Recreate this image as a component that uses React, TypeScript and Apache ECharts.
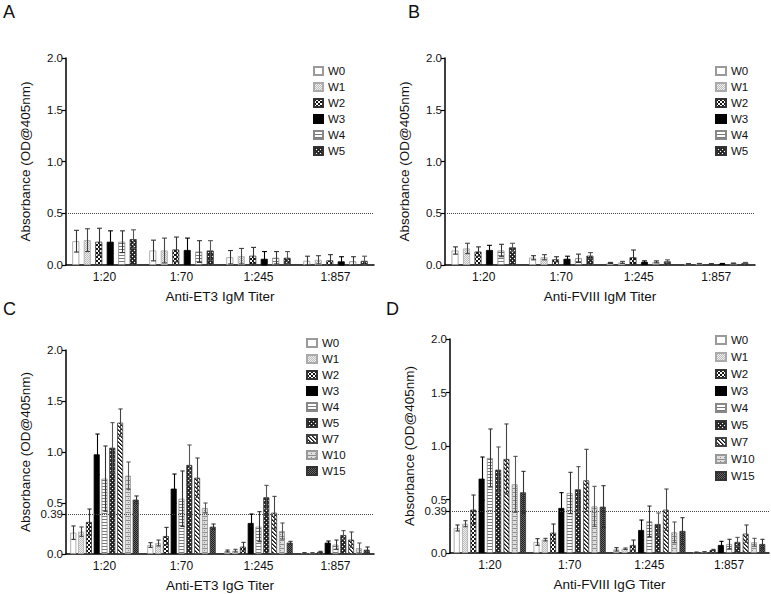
import React, { useEffect, useRef } from 'react';
import * as echarts from 'echarts';

const TITERS = ['1:20', '1:70', '1:245', '1:857'];
const WEEKS_M = ['W0', 'W1', 'W2', 'W3', 'W4', 'W5'];
const WEEKS_G = ['W0', 'W1', 'W2', 'W3', 'W4', 'W5', 'W7', 'W10', 'W15'];

// Panel A: Anti-ET3 IgM (rows = weeks, cols = titers)
const A_MEAN = [
  [0.23, 0.14, 0.075, 0.04],
  [0.24, 0.14, 0.085, 0.05],
  [0.225, 0.15, 0.09, 0.045],
  [0.225, 0.145, 0.06, 0.035],
  [0.225, 0.13, 0.07, 0.035],
  [0.25, 0.14, 0.07, 0.04],
];
const A_ERR = [
  [0.105, 0.1, 0.065, 0.045],
  [0.11, 0.12, 0.075, 0.04],
  [0.13, 0.12, 0.08, 0.055],
  [0.105, 0.115, 0.07, 0.045],
  [0.105, 0.105, 0.06, 0.045],
  [0.09, 0.095, 0.06, 0.045],
];

// Panel B: Anti-FVIII IgM
const B_MEAN = [
  [0.14, 0.07, 0.02, 0.01],
  [0.16, 0.075, 0.025, 0.012],
  [0.13, 0.055, 0.075, 0.01],
  [0.145, 0.06, 0.03, 0.012],
  [0.14, 0.065, 0.03, 0.015],
  [0.17, 0.09, 0.035, 0.02],
];
const B_ERR = [
  [0.035, 0.02, 0.005, 0.003],
  [0.05, 0.025, 0.01, 0.003],
  [0.045, 0.025, 0.07, 0.003],
  [0.045, 0.025, 0.01, 0.003],
  [0.06, 0.04, 0.01, 0.004],
  [0.04, 0.03, 0.015, 0.005],
];

// Panel C: Anti-ET3 IgG
const C_MEAN = [
  [0.209, 0.088, 0.029, 0.01],
  [0.219, 0.108, 0.033, 0.01],
  [0.314, 0.176, 0.072, 0.02],
  [0.977, 0.641, 0.304, 0.111],
  [0.739, 0.542, 0.268, 0.092],
  [1.042, 0.873, 0.556, 0.186],
  [1.288, 0.748, 0.405, 0.141],
  [0.768, 0.451, 0.225, 0.056],
  [0.533, 0.268, 0.111, 0.042],
];
const C_ERR = [
  [0.066, 0.023, 0.01, 0.003],
  [0.046, 0.029, 0.013, 0.003],
  [0.127, 0.085, 0.042, 0.006],
  [0.199, 0.143, 0.088, 0.016],
  [0.32, 0.272, 0.147, 0.045],
  [0.246, 0.196, 0.117, 0.043],
  [0.134, 0.193, 0.16, 0.075],
  [0.134, 0.049, 0.079, 0.052],
  [0.036, 0.026, 0.013, 0.027],
];

// Panel D: Anti-FVIII IgG
const D_MEAN = [
  [0.234, 0.103, 0.034, 0.006],
  [0.274, 0.125, 0.04, 0.01],
  [0.405, 0.19, 0.075, 0.028],
  [0.695, 0.421, 0.215, 0.075],
  [0.888, 0.561, 0.296, 0.084],
  [0.779, 0.595, 0.271, 0.103],
  [0.879, 0.679, 0.405, 0.181],
  [0.642, 0.436, 0.193, 0.1],
  [0.567, 0.433, 0.206, 0.084],
];
const D_ERR = [
  [0.028, 0.031, 0.016, 0.003],
  [0.028, 0.012, 0.007, 0.003],
  [0.137, 0.081, 0.046, 0.006],
  [0.202, 0.143, 0.093, 0.034],
  [0.271, 0.193, 0.143, 0.044],
  [0.212, 0.212, 0.103, 0.043],
  [0.327, 0.29, 0.193, 0.081],
  [0.261, 0.187, 0.097, 0.037],
  [0.196, 0.196, 0.124, 0.044],
];

const Y_TICKS_M = [0, 0.5, 1, 1.5, 2];
const Y_TICKS_G = [0, 0.39, 0.5, 1, 1.5, 2];

const FONT = '"Liberation Sans", Arial, Helvetica, sans-serif';

function makePattern(w: number, h: number, fill: (x: number, y: number) => string) {
  const c = document.createElement('canvas');
  c.width = w;
  c.height = h;
  const ctx = c.getContext('2d')!;
  for (let y = 0; y < h; y++) {
    for (let x = 0; x < w; x++) {
      ctx.fillStyle = fill(x, y);
      ctx.fillRect(x, y, 1, 1);
    }
  }
  return { image: c.toDataURL(), repeat: 'repeat', imageWidth: w, imageHeight: h } as any;
}

function buildStyles() {
  return {
    W0: { color: '#ffffff', border: '#9a9a9a', err: '#333' },
    W1: {
      color: makePattern(2, 2, (x, y) => ((x + y) % 2 === 0 ? '#bcbcbc' : '#f0f0f0')),
      border: '#aaaaaa',
      err: '#444',
    },
    W2: {
      color: makePattern(4, 4, (x, y) => ((Math.floor(x / 2) + Math.floor(y / 2)) % 2 === 0 ? '#111' : '#fff')),
      border: '#333',
      err: '#333',
    },
    W3: { color: '#000000', border: '#000', err: '#000' },
    W4: {
      color: makePattern(1, 3, (x, y) => (y === 0 ? '#7a7a7a' : '#ffffff')),
      border: '#888',
      err: '#333',
    },
    W5: {
      color: makePattern(4, 4, (x, y) => ((x === 0 && y === 0) || (x === 2 && y === 2) ? '#ffffff' : (x + y) % 2 === 0 ? '#1a1a1a' : '#3a3a3a')),
      border: '#333',
      err: '#555',
    },
    W7: {
      color: makePattern(4, 4, (x, y) => {
        const d = (((x - y) % 4) + 4) % 4;
        return d === 0 ? '#111' : d === 1 ? '#666' : '#fff';
      }),
      border: '#444',
      err: '#444',
    },
    W10: {
      color: makePattern(4, 4, (x, y) => (y === 0 || (y === 2 && x === 0) ? '#8c8c8c' : '#dedede')),
      border: '#999',
      err: '#555',
    },
    W15: {
      color: makePattern(2, 2, (x, y) => ((x + y) % 2 === 0 ? '#1e1e1e' : '#6a6a6a')),
      border: '#333',
      err: '#333',
    },
  } as Record<string, { color: any; border: string; err: string }>;
}

const PANELS = [
  {
    letter: 'A', letterPos: [3, 3], weeks: WEEKS_M, mean: A_MEAN, err: A_ERR, ref: 0.5, yTicks: Y_TICKS_M,
    xName: 'Anti-ET3 IgM Titer', grid: { left: 66, top: 58, width: 308, height: 207 },
    barWidth: 7, gapRatio: 0.64, legend: { left: 308, top: 60, itemGap: 4, itemWidth: 9 },
  },
  {
    letter: 'B', letterPos: [408, 3], weeks: WEEKS_M, mean: B_MEAN, err: B_ERR, ref: 0.5, yTicks: Y_TICKS_M,
    xName: 'Anti-FVIII IgM Titer', grid: { left: 445, top: 58, width: 310, height: 207 },
    barWidth: 7, gapRatio: 0.64, legend: { left: 710, top: 60, itemGap: 4, itemWidth: 10 },
  },
  {
    letter: 'C', letterPos: [3, 300], weeks: WEEKS_G, mean: C_MEAN, err: C_ERR, ref: 0.39, yTicks: Y_TICKS_G,
    xName: 'Anti-ET3 IgG Titer', grid: { left: 66, top: 350, width: 308, height: 204 },
    barWidth: 6, gapRatio: 0.3, legend: { left: 301, top: 332, itemGap: 4, itemWidth: 10 },
  },
  {
    letter: 'D', letterPos: [386, 300], weeks: WEEKS_G, mean: D_MEAN, err: D_ERR, ref: 0.39, yTicks: Y_TICKS_G,
    xName: 'Anti-FVIII IgG Titer', grid: { left: 450, top: 339, width: 319, height: 214 },
    barWidth: 6, gapRatio: 0.38, legend: { left: 710, top: 329, itemGap: 5, itemWidth: 10 },
  },
];

export default function App() {
  const ref = useRef<HTMLDivElement>(null);

  useEffect(() => {
    if (!ref.current) return;
    const chart = echarts.init(ref.current, undefined, { renderer: 'svg' });
    const styles = buildStyles();

    const grids: any[] = [];
    const xAxes: any[] = [];
    const yAxes: any[] = [];
    const legends: any[] = [];
    const series: any[] = [];
    const graphics: any[] = [];

    PANELS.forEach((p, pi) => {
      grids.push({ ...p.grid, containLabel: false });
      xAxes.push({
        type: 'category',
        gridIndex: pi,
        data: TITERS,
        axisLine: { lineStyle: { color: '#000', width: 1.5 } },
        axisTick: { alignWithLabel: true, length: 4, lineStyle: { color: '#000', width: 1.2 } },
        axisLabel: { fontSize: 12, color: '#111', margin: 6, fontFamily: FONT },
        name: p.xName,
        nameLocation: 'middle',
        nameGap: 24,
        nameTextStyle: { fontSize: 13.5, color: '#111', fontFamily: FONT },
      });
      yAxes.push({
        type: 'value',
        gridIndex: pi,
        min: 0,
        max: 2,
        interval: 0.5,
        axisLine: { show: true, lineStyle: { color: '#000', width: 1.5 } },
        axisTick: { show: true, length: 4, customValues: p.yTicks, lineStyle: { color: '#000', width: 1.2 } },
        axisLabel: {
          fontSize: 11.5,
          lineHeight: 11,
          color: '#111',
          margin: 3,
          fontFamily: FONT,
          customValues: p.yTicks,
          formatter: (v: number) => (Math.abs(v - 0.39) < 1e-6 ? '0.39' : v.toFixed(1)),
        },
        splitLine: { show: false },
        name: 'Absorbance (OD@405nm)',
        nameLocation: 'middle',
        nameGap: 34,
        nameTextStyle: { fontSize: 13.5, color: '#111', fontFamily: FONT },
      });
      legends.push({
        orient: 'vertical',
        left: p.legend.left,
        top: p.legend.top,
        itemWidth: p.legend.itemWidth,
        itemHeight: 8,
        itemGap: p.legend.itemGap,
        icon: 'rect',
        data: p.weeks,
        selectedMode: false,
        textStyle: { fontSize: 11.5, color: '#111', fontFamily: FONT },
      });

      const n = p.weeks.length;
      p.weeks.forEach((w, wi) => {
        const st = styles[w];
        const s: any = {
          type: 'bar',
          name: w,
          xAxisIndex: pi,
          yAxisIndex: pi,
          data: p.mean[wi],
          barWidth: p.barWidth,
          barGap: Math.round(p.gapRatio * 100) + '%',
          itemStyle: { color: st.color, borderColor: st.border, borderWidth: 0.8 },
          emphasis: { disabled: true },
        };
        if (wi === 0) {
          s.markLine = {
            silent: true,
            symbol: ['none', 'none'],
            label: { show: false },
            lineStyle: { type: 'dotted', color: '#444', width: 1 },
            data: [{ yAxis: p.ref }],
          };
        }
        series.push(s);
      });

      const errData: number[][] = [];
      p.weeks.forEach((w, wi) => {
        TITERS.forEach((t, ci) => {
          errData.push([ci, wi, p.mean[wi][ci], p.err[wi][ci]]);
        });
      });
      const spacing = p.barWidth * (1 + p.gapRatio);
      const cap = p.barWidth * 0.35;
      series.push({
        type: 'custom',
        name: 'err' + p.letter,
        xAxisIndex: pi,
        yAxisIndex: pi,
        z: 5,
        silent: true,
        encode: { x: 0, y: 2 },
        data: errData,
        renderItem: (params: any, api: any) => {
          const ci = api.value(0);
          const wi = api.value(1);
          const v = api.value(2);
          const e = api.value(3);
          const c = api.coord([ci, v]);
          const x = Math.round(c[0] + (wi - (n - 1) / 2) * spacing) + 0.5;
          const yt = api.coord([ci, v + e])[1];
          const yb = api.coord([ci, Math.max(0, v - e)])[1];
          const col = styles[p.weeks[wi]].err;
          const ls = { stroke: col, lineWidth: 1.1 };
          return {
            type: 'group',
            children: [
              { type: 'line', shape: { x1: x, y1: yt, x2: x, y2: yb }, style: ls },
              { type: 'line', shape: { x1: x - cap, y1: yt, x2: x + cap, y2: yt }, style: ls },
              { type: 'line', shape: { x1: x - cap, y1: yb, x2: x + cap, y2: yb }, style: ls },
            ],
          };
        },
      });

      graphics.push({
        type: 'text',
        left: p.letterPos[0],
        top: p.letterPos[1],
        style: { text: p.letter, fontSize: 18, fill: '#111', fontFamily: FONT },
      });
    });

    chart.setOption({
      animation: false,
      backgroundColor: '#ffffff',
      textStyle: { fontFamily: FONT },
      grid: grids,
      xAxis: xAxes,
      yAxis: yAxes,
      legend: legends,
      series,
      graphic: graphics,
    });

    return () => chart.dispose();
  }, []);

  return (
    <div
      ref={ref}
      style={{ position: 'absolute', left: 0, top: 0, width: 771, height: 594, background: '#fff' }}
    />
  );
}
